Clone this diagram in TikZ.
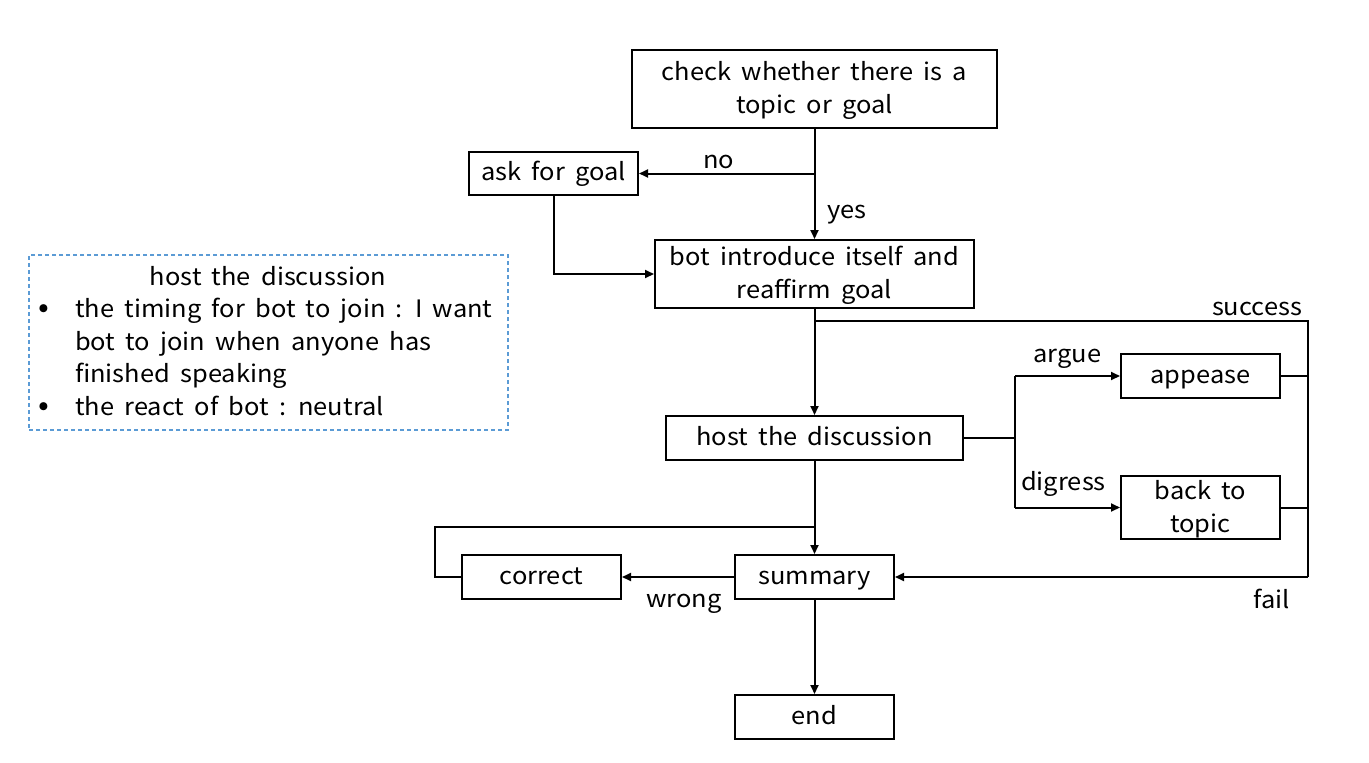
\documentclass[tikz,border=0pt]{standalone}
\usepackage{fontspec}
\setmainfont{Noto Sans CJK JP}[FakeStretch=1.06,WordSpace=1.8]
\usetikzlibrary{arrows.meta}
\definecolor{dashblue}{HTML}{5B9BD5}
\begin{document}
\begin{tikzpicture}[x=1pt,y=-1pt,
  every node/.style={font=\fontsize{24}{33}\selectfont},
  box/.style={draw,line width=2pt,inner sep=0pt,align=center},
  one/.style={box,text height=18pt,text depth=4pt},
  two/.style={box,text height=51pt,text depth=2pt},
  conn/.style={line width=2pt},
  arr/.style={conn,-{Triangle[length=9pt,width=8pt]}},
  lbl/.style={inner sep=0pt,anchor=base}]
\useasboundingbox (0,0) rectangle (1369,763);
% nodes
\node[two,minimum width=365pt,minimum height=78pt] (check) at (814.5,89) {check whether there is a\\topic or goal};
\node[one,minimum width=169pt,minimum height=43pt] (ask) at (553.5,173.5) {ask for goal};
\node[two,minimum width=319pt,minimum height=68pt] (intro) at (814.5,274) {bot introduce itself and\\reaffirm goal};
\node[one,minimum width=297pt,minimum height=44pt] (host) at (814.5,438) {host the discussion};
\node[one,minimum width=159pt,minimum height=44pt] (appease) at (1200.5,376) {appease};
\node[two,minimum width=159pt,minimum height=63pt] (back) at (1200.5,507.5) {back to\\topic};
\node[one,minimum width=159pt,minimum height=44pt] (summary) at (814.5,577) {summary};
\node[one,minimum width=159pt,minimum height=44pt] (correct) at (541.5,577) {correct};
\node[one,minimum width=159pt,minimum height=44pt] (end) at (814.5,717) {end};
% note box
\node[draw=dashblue,line width=1.5pt,dash pattern=on 4pt off 3pt,minimum width=479pt,minimum height=175pt,inner sep=0pt] (note) at (268.5,342.5) {};
\node[lbl] (notetitle) at (268,285) {host the discussion};
\node[lbl] (b1) at (44,317.5) {\fontsize{30}{33}\selectfont •};
\node[lbl,anchor=base west] (l1) at (75,317.5) {the timing for bot to join : I want};
\node[lbl,anchor=base west] (l2) at (75,350) {bot to join when anyone has};
\node[lbl,anchor=base west] (l3) at (75,382.5) {finished speaking};
\node[lbl] (b2) at (44,415) {\fontsize{30}{33}\selectfont •};
\node[lbl,anchor=base west] (l4) at (75,415) {the react of bot : neutral};
% coordinates
\coordinate (jno) at (check.south |- ask.east);
\coordinate (jask) at (ask.south |- intro.west);
\coordinate (jsucc) at (814.5,321);
\coordinate (rtop) at (1308,321);
\coordinate (rbot) at (1308,577);
\coordinate (fork) at (1015,438);
\coordinate (forka) at (1015,376);
\coordinate (forkb) at (1015,507.5);
\coordinate (loopa) at (435,577);
\coordinate (loopb) at (435,527);
\coordinate (loopc) at (814.5,527);
% connectors
\draw[arr] (check.south) -- (intro.north);
\draw[arr] (jno) -- (ask.east);
\draw[arr] (ask.south) -- (jask) -- (intro.west);
\draw[arr] (intro.south) -- (host.north);
\draw[conn] (jsucc) -- (rtop) -- (rbot);
\draw[arr] (rbot) -- (summary.east);
\draw[conn] (host.east) -- (fork);
\draw[conn] (forka) -- (forkb);
\draw[arr] (forka) -- (appease.west);
\draw[arr] (forkb) -- (back.west);
\draw[conn] (appease.east) -- (appease.east -| rtop);
\draw[conn] (back.east) -- (back.east -| rtop);
\draw[arr] (host.south) -- (summary.north);
\draw[arr] (summary.west) -- (correct.east);
\draw[conn] (correct.west) -- (loopa) -- (loopb) -- (loopc);
\draw[arr] (summary.south) -- (end.north);
% labels
\node[lbl] (tno) at (718.5,168) {no};
\node[lbl] (tyes) at (847,218) {yes};
\node[lbl] (tsucc) at (1257,315) {success};
\node[lbl] (tfail) at (1272,608) {fail};
\node[lbl] (targue) at (1067.5,362) {argue};
\node[lbl] (tdig) at (1063.5,490) {digress};
\node[lbl] (twrong) at (684,607) {wrong};
\end{tikzpicture}
\end{document}
